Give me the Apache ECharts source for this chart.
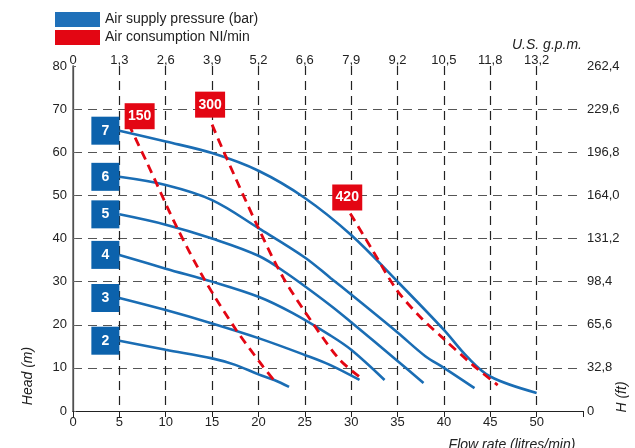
<!DOCTYPE html>
<html><head><meta charset="utf-8">
<script src="https://cdn.jsdelivr.net/npm/echarts@6/dist/echarts.min.js"></script>
<style>html,body{margin:0;padding:0;background:#fff}#c{width:635px;height:448px}</style>
</head><body><div id="c"></div>
<script>
// ---- data ----
const gpmLabels = ['0','1,3','2,6','3,9','5,2','6,6','7,9','9,2','10,5','11,8','13,2'];
const ftLabels = ['0','32,8','65,6','98,4','131,2','164,0','196,8','229,6','262,4'];
const pressures = ['2','3','4','5','6','7'];
const p2 = [[5,16.3],[10,14.2],[15,12.2],[17.5,10.7],[20,8.5],[21.7,7.2],[23.3,5.6]];
const p3 = [[5,26.2],[10,23.4],[15,20.3],[20,16.9],[25,13.0],[27.7,10.7],[30.9,7.2]];
const p4 = [[5,36.2],[10,33.0],[15,30.0],[20,26.5],[23.7,22.7],[27.7,17.6],[30,14.2],[33.6,7.2]];
const p5 = [[5,45.6],[10,43.2],[15,40.0],[20,36.0],[23,32.0],[27.7,24.6],[30,20.6],[35,11.6],[37.8,6.5]];
const p6 = [[5,54.3],[10,52.4],[15,48.9],[20,42.4],[25,35.6],[27.8,30.8],[30,27.0],[35,18.2],[38,12.7],[40,10.0],[43.3,5.3]];
const p7 = [[5,65.0],[10,62.5],[15,59.8],[20,55.7],[25,49.4],[30,40.8],[35,30.0],[40,18.8],[42.5,12.6],[45,8.0],[50,4.2]];
const consumptions = ['150','300','420'];
const c150 = [[6,66.5],[8,57.5],[11,43.5],[14.2,30.4],[17.6,18.8],[20.5,10.3],[21.8,6.8]];
const c300 = [[15,66.4],[16.2,60.4],[20,42.4],[22.7,30.8],[26.1,19.6],[28.8,11.8],[31.1,7.6]];
const c420 = [[29.9,45.8],[32.3,37.3],[34.9,28.1],[37.4,21.9],[39.9,16.9],[43.1,10.7],[45.8,6.0]];

// ---- chart ----
const BLUE = '#1a6db4', BOXBLUE = '#0c62ac', RED = '#e30613';
const FONT = 'Liberation Sans';
const blueName = 'Air supply pressure (bar)', redName = 'Air consumption NI/min';
const curves = [p2,p3,p4,p5,p6,p7];
const reds = [c150,c300,c420];
const redOffsets = [[11,-8],[-2,-20],[-3,-16]];

const series = [];
curves.forEach(c => series.push({
  name: blueName, type: 'line', data: c, smooth: 0.35, showSymbol: false, z: 3,
  lineStyle: {color: BLUE, width: 2.6}, itemStyle: {color: BLUE}
}));
reds.forEach(c => series.push({
  name: redName, type: 'line', data: c, smooth: 0.3, showSymbol: false, z: 4,
  lineStyle: {color: RED, width: 2.8, type: [9,6]}, itemStyle: {color: RED}
}));
series.push({
  name: 'pressureBoxes', type: 'scatter', z: 6, symbol: 'rect', symbolSize: [28,28],
  data: curves.map(c => ({value: c[0], symbolOffset: [-14,0]})),
  itemStyle: {color: BOXBLUE, opacity: 1},
  label: {show: true, position: 'inside', color: '#fff', fontWeight: 'bold', fontSize: 14, fontFamily: FONT,
    formatter: p => pressures[p.dataIndex]}
});
series.push({
  name: 'consBoxes', type: 'scatter', z: 7, symbol: 'rect', symbolSize: [30,26],
  data: reds.map((c,i) => ({value: c[0], symbolOffset: redOffsets[i]})),
  itemStyle: {color: RED, opacity: 1},
  label: {show: true, position: 'inside', color: '#fff', fontWeight: 'bold', fontSize: 14, fontFamily: FONT,
    formatter: p => consumptions[p.dataIndex]}
});

const labelStyle = {color: '#222', fontSize: 13, fontFamily: FONT};
const chart = echarts.init(document.getElementById('c'), null, {renderer: 'canvas'});
chart.setOption({
  animation: false,
  textStyle: {fontFamily: FONT},
  grid: {left: 73, right: 52, top: 66, bottom: 37},
  legend: {
    orient: 'vertical', left: 50, top: 7, itemWidth: 45, itemHeight: 15, itemGap: 3,
    textStyle: {fontSize: 14, color: '#222', fontFamily: FONT},
    data: [{name: blueName, icon: 'rect', itemStyle: {color: '#1f70b9'}},
           {name: redName, icon: 'rect', itemStyle: {color: RED}}],
    selectedMode: false
  },
  xAxis: [{
    type: 'value', position: 'bottom', min: 0, max: 55, interval: 5,
    axisLine: {show: true, lineStyle: {color: '#555', width: 1.2}},
    axisTick: {show: false},
    axisLabel: Object.assign({margin: 5, formatter: v => v > 50 ? '' : String(v)}, labelStyle),
    splitLine: {show: true, showMinLine: false, showMaxLine: false, lineStyle: {color: '#222', type: [9,6], width: 1.2}}
  }, {
    type: 'value', position: 'top', min: 0, max: 55, interval: 5,
    axisLine: {show: true, lineStyle: {color: '#222', width: 1.2}},
    axisTick: {show: true, inside: true, length: 6, lineStyle: {color: '#222'}},
    axisLabel: Object.assign({margin: -1, formatter: v => gpmLabels[Math.round(v/5)] || ''}, labelStyle),
    splitLine: {show: false}
  }],
  yAxis: [{
    type: 'value', position: 'left', min: 0, max: 80, interval: 10,
    axisLine: {show: true, lineStyle: {color: '#111', width: 1.2}},
    axisTick: {show: false},
    axisLabel: Object.assign({margin: 6}, labelStyle),
    splitLine: {show: true, showMinLine: false, showMaxLine: false, lineStyle: {color: '#555', type: [9,6], width: 1.2}}
  }, {
    type: 'value', position: 'right', min: 0, max: 80, interval: 10,
    axisLine: {show: true, lineStyle: {color: '#666', width: 1.5}},
    axisTick: {show: true, length: 3, lineStyle: {color: '#666'}},
    axisLabel: Object.assign({margin: 4, formatter: v => ftLabels[Math.round(v/10)]}, labelStyle),
    splitLine: {show: false}
  }],
  graphic: [
    {type: 'text', x: 28, y: 376, rotation: Math.PI/2, style: {text: 'Head (m)', font: 'italic 14px "Liberation Sans"', fill: '#222', textAlign: 'center', textVerticalAlign: 'middle'}},
    {type: 'text', x: 622, y: 397, rotation: Math.PI/2, style: {text: 'H (ft)', font: 'italic 14px "Liberation Sans"', fill: '#222', textAlign: 'center', textVerticalAlign: 'middle'}},
    {type: 'text', x: 512, y: 445, style: {text: 'Flow rate (litres/min)', font: 'italic 14px "Liberation Sans"', fill: '#222', textAlign: 'center', textVerticalAlign: 'middle'}},
    {type: 'text', x: 582, y: 45, style: {text: 'U.S. g.p.m.', font: 'italic 14px "Liberation Sans"', fill: '#222', textAlign: 'right', textVerticalAlign: 'middle'}}
  ],
  series: series
});
</script></body></html>
